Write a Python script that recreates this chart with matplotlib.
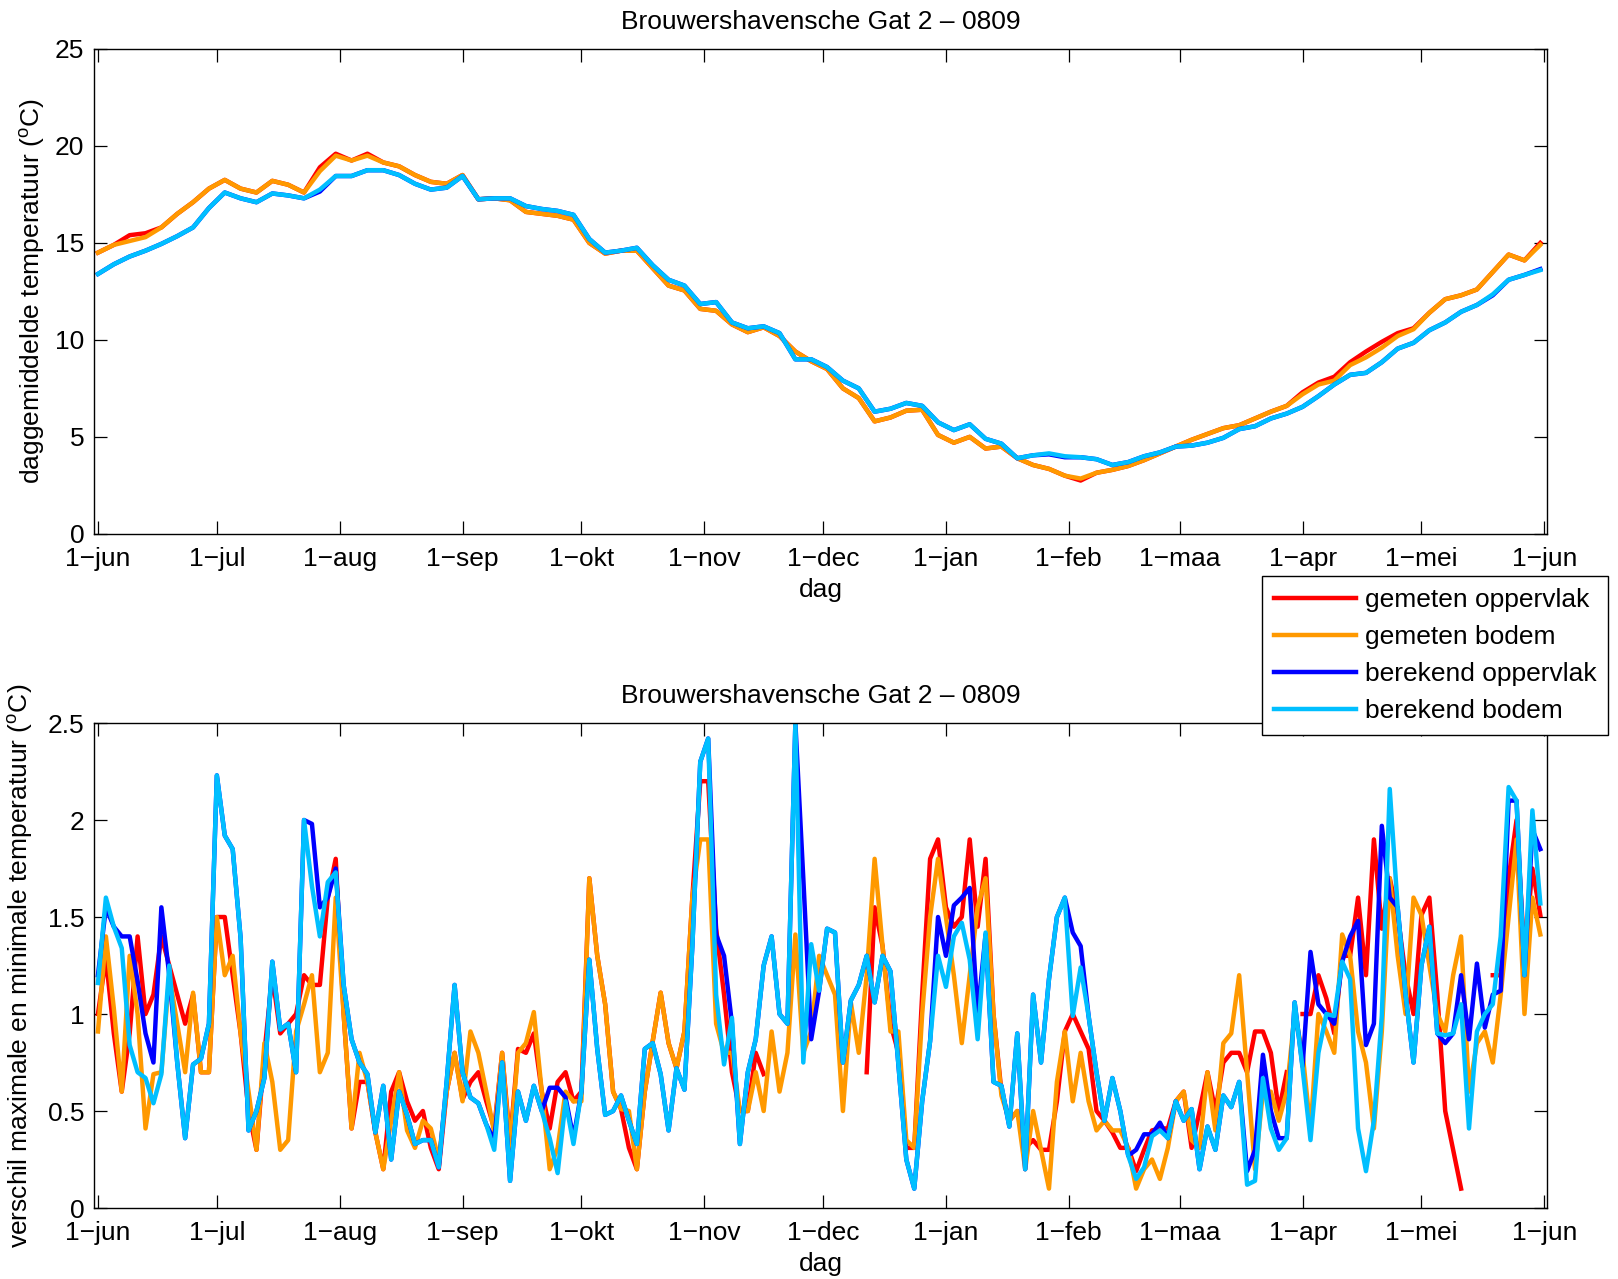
import matplotlib
matplotlib.use("Agg")
import matplotlib.pyplot as plt
import numpy as np
import pandas as pd

plt.rcParams['font.family'] = ['Liberation Sans', 'DejaVu Sans']
plt.rcParams['mathtext.fontset'] = 'custom'
plt.rcParams['mathtext.rm'] = 'Liberation Sans'
plt.rcParams['mathtext.it'] = 'Liberation Sans:italic'

nan = np.nan
title = "Brouwershavensche Gat 2 \u2013 0809"
labels = ["gemeten oppervlak", "gemeten bodem", "berekend oppervlak", "berekend bodem"]
colors = ["#ff0000", "#ff9900", "#0000ff", "#00bfff"]
months = ["jun", "jul", "aug", "sep", "okt", "nov", "dec", "jan", "feb", "maa", "apr", "mei", "jun"]

# top panel: daily mean temperature, every 4th day from 1 jun 2008
t_days = np.arange(0, 365, 4)
t_red = [14.5, 14.9, 15.4, 15.5, 15.8, 16.5, 17.1, 17.8, 18.25, 17.8,
         17.6, 18.2, 18.0, 17.6, 18.9, 19.6, 19.25, 19.6, 19.15, 18.95,
         18.5, 18.15, 18.05, 18.5, 17.25, 17.3, 17.2, 16.6, 16.5, 16.4,
         16.2, 15.0, 14.45, 14.6, 14.6, 13.7, 12.8, 12.55, 11.6, 11.5,
         10.8, 10.4, 10.65, 10.2, 9.4, 8.9, 8.5, 7.5, 7.0, 5.8,
         6.0, 6.35, 6.4, 5.1, 4.7, 5.0, 4.4, 4.5, 3.9, 3.55,
         3.35, 3.0, 2.75, 3.15, 3.3, 3.5, 3.8, 4.15, 4.5, 4.85,
         5.15, 5.45, 5.6, 5.95, 6.3, 6.6, 7.3, 7.8, 8.1, 8.85,
         9.4, 9.9, 10.35, 10.6, 11.4, 12.1, 12.3, 12.6, 13.5, 14.4,
         14.1, 15.0]
t_orange = [14.5, 14.9, 15.1, 15.3, 15.8, 16.5, 17.1, 17.8, 18.25, 17.8,
            17.6, 18.2, 18.0, 17.6, 18.7, 19.5, 19.25, 19.5, 19.15, 18.95,
            18.5, 18.15, 18.05, 18.5, 17.25, 17.3, 17.2, 16.6, 16.5, 16.4,
            16.2, 15.0, 14.45, 14.6, 14.6, 13.7, 12.8, 12.55, 11.6, 11.5,
            10.8, 10.4, 10.65, 10.2, 9.4, 8.9, 8.5, 7.5, 7.0, 5.8,
            6.0, 6.35, 6.4, 5.1, 4.7, 5.0, 4.4, 4.5, 3.9, 3.55,
            3.35, 3.0, 2.85, 3.15, 3.3, 3.5, 3.8, 4.15, 4.5, 4.85,
            5.15, 5.45, 5.6, 5.95, 6.3, 6.6, 7.2, 7.7, 7.9, 8.7,
            9.1, 9.6, 10.2, 10.55, 11.4, 12.1, 12.3, 12.6, 13.5, 14.4,
            14.1, 14.9]
t_blue = [13.4, 13.9, 14.3, 14.6, 14.95, 15.35, 15.8, 16.8, 17.6, 17.3,
          17.1, 17.55, 17.45, 17.3, 17.65, 18.45, 18.45, 18.75, 18.75, 18.5,
          18.05, 17.75, 17.85, 18.45, 17.25, 17.3, 17.3, 16.9, 16.75, 16.65,
          16.45, 15.2, 14.5, 14.6, 14.75, 13.85, 13.1, 12.8, 11.85, 11.95,
          10.9, 10.6, 10.7, 10.35, 9.0, 9.0, 8.6, 7.9, 7.5, 6.3,
          6.45, 6.75, 6.6, 5.75, 5.35, 5.65, 4.9, 4.65, 3.9, 4.05,
          4.1, 3.95, 3.95, 3.85, 3.55, 3.7, 4.0, 4.2, 4.5, 4.55,
          4.7, 4.95, 5.4, 5.55, 5.95, 6.2, 6.55, 7.1, 7.7, 8.2,
          8.3, 8.85, 9.55, 9.85, 10.5, 10.9, 11.45, 11.8, 12.3, 13.1,
          13.35, 13.65]
t_cyan = [13.4, 13.9, 14.3, 14.6, 14.95, 15.35, 15.8, 16.8, 17.6, 17.3,
          17.1, 17.55, 17.45, 17.3, 17.75, 18.45, 18.45, 18.75, 18.75, 18.5,
          18.05, 17.75, 17.85, 18.45, 17.25, 17.3, 17.3, 16.9, 16.75, 16.65,
          16.45, 15.2, 14.5, 14.6, 14.75, 13.85, 13.1, 12.8, 11.85, 11.95,
          10.9, 10.6, 10.7, 10.35, 9.0, 9.0, 8.6, 7.9, 7.5, 6.3,
          6.45, 6.75, 6.6, 5.75, 5.35, 5.65, 4.9, 4.65, 3.9, 4.05,
          4.15, 4.0, 3.95, 3.85, 3.55, 3.7, 4.0, 4.2, 4.5, 4.55,
          4.7, 4.95, 5.4, 5.55, 5.95, 6.2, 6.55, 7.1, 7.7, 8.2,
          8.3, 8.85, 9.55, 9.85, 10.5, 10.9, 11.45, 11.8, 12.35, 13.1,
          13.35, 13.6]

# bottom panel: daily max - min temperature, every 2nd day
b_days = np.arange(0, 365, 2)
b_red = [1.0, 1.29, 0.9, 0.6, 0.9, 1.4, 1.0, 1.1, 1.4, 1.25, 1.1, 0.95, 1.1, 0.7, 0.7, 1.5,
         1.5, 1.2, 0.9, 0.5, 0.3, 0.8, 1.2, 0.9, 0.95, 1.0, 1.2, 1.15, 1.15, 1.6, 1.8,
         1.0, 0.41, 0.65, 0.65, 0.39, 0.2, 0.6, 0.7, 0.55, 0.45, 0.5, 0.31, 0.2, 0.6, 0.8, 0.56,
         0.65, 0.7, 0.55, 0.41, 0.8, 0.34, 0.82, 0.8, 0.9, 0.6, 0.41, 0.65, 0.7, 0.55, 0.6,
         1.7, 1.3, 1.05, 0.6, 0.51, 0.31, 0.2, 0.6, 0.86, 1.11, 0.85, 0.72, 0.91, 1.6, 2.2, 2.2,
         1.44, 1.1, 0.7, 0.5, 0.5, 0.8, 0.69, nan, nan, nan, nan, nan, nan, nan, nan,
         nan, nan, nan, nan, 0.7, 1.55, 1.35, 0.95, 0.8, 0.31, 0.31, 1.1, 1.8, 1.9, 1.55, 1.45,
         1.5, 1.9, 1.45, 1.8, 1.0, 0.6, 0.45, 0.5, 0.31, 0.35, 0.3, 0.3, 0.55, 0.91, 1.0,
         0.91, 0.82, 0.5, 0.45, 0.39, 0.31, 0.31, 0.19, 0.3, 0.4, 0.41, 0.41, 0.55, 0.6, 0.31, 0.5,
         0.7, 0.5, 0.75, 0.8, 0.8, 0.7, 0.91, 0.91, 0.8, 0.5, 0.7, nan, 1.0, 1.0, 1.2,
         1.08, 0.9, 1.3, 1.3, 1.6, 1.2, 1.9, 1.44, 1.7, 1.51, 1.2, 1.0, 1.51, 1.6,
         1.1, 0.5, 0.3, 0.1, nan, nan, nan, 1.2, 1.2, 1.7, 2.0, 1.3, 1.75, 1.51]
b_orange = [0.91, 1.4, 1.03, 0.6, 1.3, 1.0, 0.41, 0.69, 0.7, 1.2, 0.95, 0.7, 1.11, 0.7, 0.7, 1.5,
            1.2, 1.3, 0.9, 0.6, 0.3, 0.85, 0.65, 0.3, 0.35, 0.91, 1.05, 1.2, 0.7, 0.8, 1.6,
            1.0, 0.41, 0.8, 0.65, 0.39, 0.2, 0.45, 0.7, 0.4, 0.31, 0.45, 0.41, 0.25, 0.6, 0.8, 0.55,
            0.91, 0.8, 0.6, 0.39, 0.8, 0.31, 0.8, 0.85, 1.01, 0.6, 0.2, 0.31, 0.6, 0.55, 0.55,
            1.7, 1.3, 1.05, 0.6, 0.51, 0.5, 0.2, 0.6, 0.86, 1.11, 0.85, 0.72, 0.91, 1.6, 1.9, 1.9,
            0.95, 0.8, 0.8, 0.5, 0.5, 0.7, 0.5, 0.91, 0.6, 0.8, 1.41, 0.8, 0.91, 1.3, 1.2,
            1.1, 0.5, 1.06, 0.8, 1.2, 1.8, 1.35, 0.91, 0.91, 0.35, 0.31, 1.0, 1.5, 1.8, 1.5, 1.2,
            0.85, 1.2, 1.55, 1.7, 1.0, 0.58, 0.45, 0.5, 0.2, 0.5, 0.3, 0.1, 0.65, 0.91, 0.55,
            0.8, 0.55, 0.4, 0.45, 0.4, 0.4, 0.31, 0.1, 0.2, 0.25, 0.15, 0.31, 0.55, 0.6, 0.35, 0.31,
            0.7, 0.4, 0.85, 0.9, 1.2, 0.7, 0.2, 0.6, 0.6, 0.45, 0.6, 1.0, 0.8, 0.4, 1.0,
            0.91, 0.8, 1.41, 1.3, 0.91, 0.75, 0.41, 0.91, 1.7, 1.3, 1.0, 1.6, 1.51, 1.25,
            1.0, 0.91, 1.2, 1.4, 0.6, 0.85, 0.91, 0.75, 1.1, 1.5, 1.9, 1.0, 1.6, 1.41]
b_blue = [1.2, 1.55, 1.45, 1.4, 1.4, 1.17, 0.9, 0.75, 1.55, 1.2, 0.75, 0.36, 0.74, 0.77, 0.95, 2.23,
          1.92, 1.85, 1.39, 0.4, 0.5, 0.67, 1.27, 0.92, 0.95, 0.7, 2.0, 1.98, 1.55, 1.6, 1.75,
          1.15, 0.87, 0.75, 0.69, 0.39, 0.63, 0.25, 0.6, 0.48, 0.33, 0.35, 0.35, 0.21, 0.65, 1.15, 0.7,
          0.57, 0.54, 0.43, 0.35, 0.75, 0.14, 0.6, 0.45, 0.63, 0.5, 0.62, 0.62, 0.57, 0.36, 0.6,
          1.28, 0.82, 0.48, 0.5, 0.58, 0.45, 0.33, 0.82, 0.85, 0.69, 0.4, 0.72, 0.61, 1.35, 2.3, 2.42,
          1.41, 1.3, 0.95, 0.33, 0.7, 0.87, 1.25, 1.4, 1.0, 0.95, 2.5, 1.7, 0.87, 1.12, 1.44,
          1.42, 0.75, 1.07, 1.15, 1.3, 1.06, 1.3, 1.22, 0.74, 0.25, 0.1, 0.55, 0.86, 1.5, 1.3, 1.56,
          1.6, 1.65, 1.0, 1.41, 0.65, 0.63, 0.42, 0.9, 0.2, 1.1, 0.75, 1.18, 1.5, 1.6, 1.42,
          1.35, 0.99, 0.7, 0.45, 0.67, 0.5, 0.27, 0.3, 0.38, 0.38, 0.44, 0.36, 0.55, 0.45, 0.51, 0.2,
          0.42, 0.3, 0.58, 0.52, 0.65, 0.19, 0.3, 0.79, 0.5, 0.36, 0.36, 1.06, 0.73, 1.32, 1.05,
          1.0, 0.95, 1.27, 1.4, 1.48, 0.84, 0.95, 1.97, 1.6, 1.55, 1.1, 0.75, 1.25, 1.45,
          0.9, 0.85, 0.9, 1.2, 0.87, 1.26, 0.93, 1.1, 1.12, 2.1, 2.1, 1.2, 1.95, 1.85]
b_cyan = [1.16, 1.6, 1.45, 1.34, 0.84, 0.7, 0.67, 0.54, 0.69, 1.25, 0.75, 0.36, 0.74, 0.77, 0.95, 2.23,
          1.92, 1.85, 1.39, 0.4, 0.5, 0.67, 1.27, 0.92, 0.95, 0.7, 2.0, 1.66, 1.4, 1.68, 1.73,
          1.15, 0.87, 0.75, 0.69, 0.39, 0.63, 0.25, 0.6, 0.48, 0.33, 0.35, 0.35, 0.21, 0.65, 1.15, 0.7,
          0.57, 0.54, 0.43, 0.3, 0.75, 0.14, 0.6, 0.45, 0.63, 0.5, 0.36, 0.18, 0.55, 0.33, 0.6,
          1.28, 0.82, 0.48, 0.5, 0.58, 0.45, 0.33, 0.82, 0.85, 0.69, 0.4, 0.72, 0.61, 1.35, 2.3, 2.42,
          1.1, 0.74, 0.98, 0.33, 0.7, 0.87, 1.25, 1.4, 1.0, 0.95, 2.5, 0.75, 1.36, 1.12, 1.44,
          1.42, 0.75, 1.07, 1.15, 1.3, 1.06, 1.3, 1.22, 0.74, 0.25, 0.1, 0.55, 0.86, 1.3, 1.14, 1.4,
          1.47, 1.28, 0.87, 1.42, 0.65, 0.63, 0.42, 0.9, 0.2, 1.1, 0.75, 1.18, 1.5, 1.6, 0.99,
          1.24, 0.99, 0.7, 0.45, 0.67, 0.5, 0.27, 0.15, 0.21, 0.37, 0.4, 0.36, 0.55, 0.45, 0.51, 0.2,
          0.42, 0.3, 0.58, 0.52, 0.65, 0.12, 0.14, 0.67, 0.41, 0.3, 0.36, 1.06, 0.72, 0.35, 0.8,
          1.0, 0.99, 1.27, 1.18, 0.41, 0.19, 0.45, 0.99, 2.16, 1.55, 1.1, 0.75, 1.25, 1.45,
          0.9, 0.89, 0.9, 1.05, 0.41, 0.91, 1.0, 1.05, 1.4, 2.17, 2.1, 1.2, 2.05, 1.57]

start = pd.Timestamp("2008-06-01")
tick_days = (pd.date_range("2008-06-01", "2009-06-01", freq="MS") - start).days
tick_labels = ["1\u2212" + m for m in months]

FS = 19
fig = plt.figure(figsize=(16.18, 12.79), dpi=100)
ax1 = fig.add_axes([0.0581, 0.5826, 0.8983, 0.3791])
ax2 = fig.add_axes([0.0581, 0.0555, 0.8983, 0.3792])

lines = []
for ys, c in zip([t_red, t_orange, t_blue, t_cyan], colors):
    lines += ax1.plot(t_days, ys, color=c, lw=3.2, solid_joinstyle="round")
for ys, c in zip([b_red, b_orange, b_blue, b_cyan], colors):
    ax2.plot(b_days, ys, color=c, lw=3.2, solid_joinstyle="round")

ax1.set_ylim(0, 25)
ax1.set_yticks([0, 5, 10, 15, 20, 25])
ax1.set_ylabel(r"daggemiddelde temperatuur ($^{\rm o}$C)", fontsize=FS, labelpad=6)
ax2.set_ylim(0, 2.5)
ax2.set_yticks([0, 0.5, 1, 1.5, 2, 2.5])
ax2.set_yticklabels(["0", "0.5", "1", "1.5", "2", "2.5"])
ax2.set_ylabel(r"verschil maximale en minimale temperatuur ($^{\rm o}$C)", fontsize=FS, labelpad=9)

for ax in (ax1, ax2):
    ax.set_xlim(-1, 365.8)
    ax.set_xticks(tick_days)
    ax.set_xticklabels(tick_labels)
    ax.tick_params(direction="in", length=9.5, width=0.9, top=True, right=True,
                   labelsize=FS, pad=7)
    ax.tick_params(axis="x", pad=9.5)
    ax.set_xlabel("dag", fontsize=FS, labelpad=5)
    ax.set_title(title, fontsize=FS, pad=14.5)
    for s in ax.spines.values():
        s.set_linewidth(1.0)

fig.legend(lines, labels, loc="upper left", bbox_to_anchor=(1262 / 1618, 1 - 576 / 1279),
           borderaxespad=0, fontsize=FS, frameon=True, fancybox=False, edgecolor="black",
           framealpha=1, handlelength=3.1, handletextpad=0.35, labelspacing=0.5,
           borderpad=0.45)

plt.savefig("out.png", dpi=100)
